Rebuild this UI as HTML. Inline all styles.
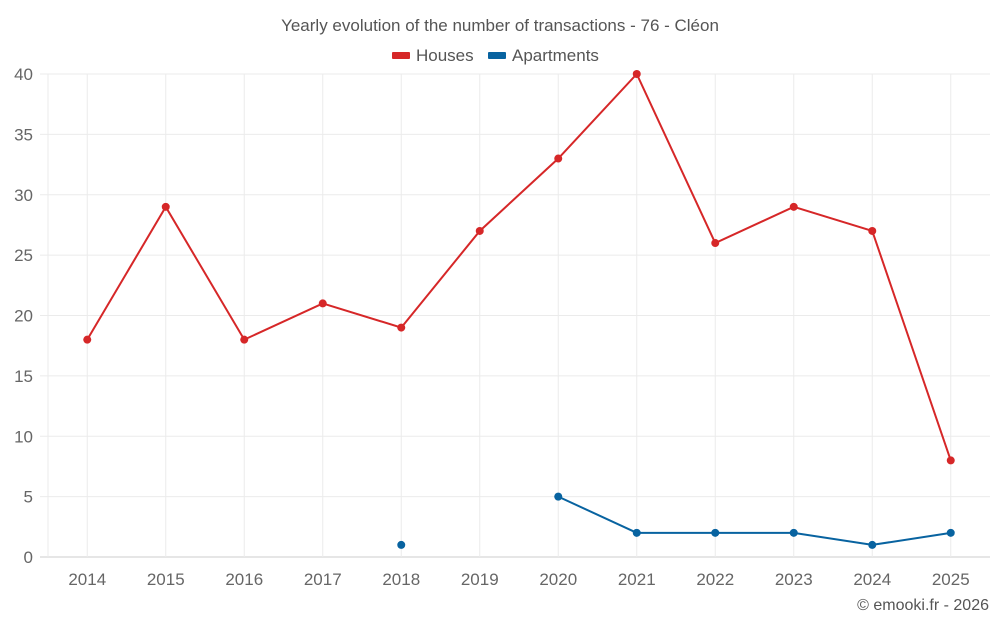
<!DOCTYPE html>
<html><head><meta charset="utf-8"><style>
html,body{margin:0;padding:0;background:#fff;}
svg text{font-family:"Liberation Sans",sans-serif;}
</style></head><body>
<svg id="chart" width="1000" height="625" xmlns="http://www.w3.org/2000/svg">
<text x="500" y="31" text-anchor="middle" font-size="17" fill="#555">Yearly evolution of the number of transactions - 76 - Cléon</text>
<g>
<g><rect x="392" y="52" width="18" height="7" fill="#d62728" rx="1"/><text x="416" y="61" font-size="17" fill="#555">Houses</text></g>
<g><rect x="488" y="52" width="18" height="7" fill="#0863a0" rx="1"/><text x="512" y="61" font-size="17" fill="#555">Apartments</text></g>
</g>
<g id="grid"></g><g id="axes"></g><g id="series"></g>
<text x="989" y="610" text-anchor="end" font-size="16" fill="#555">© emooki.fr - 2026</text>
</svg>
<script>
const years=["2014","2015","2016","2017","2018","2019","2020","2021","2022","2023","2024","2025"];
const houses=[18,29,18,21,19,27,33,40,26,29,27,8];
const apartments=[null,null,null,null,1,null,5,2,2,2,1,2];
const yTicks=[0,5,10,15,20,25,30,35,40];
const L=48,R=990,T=74,B=557,yMax=40;
const bw=(R-L)/years.length;
const xs=i=>L+bw*(i+0.5);
const ys=v=>B-(v/yMax)*(B-T);
const NS="http://www.w3.org/2000/svg";
function mk(tag,attrs,parent){const e=document.createElementNS(NS,tag);for(const k in attrs)e.setAttribute(k,attrs[k]);parent.appendChild(e);return e;}
const grid=document.getElementById('grid'),axes=document.getElementById('axes'),series=document.getElementById('series');
yTicks.forEach(t=>{
 const l=mk('line',{x1:40,x2:R,y1:ys(t),y2:ys(t),stroke:t===0?'#ccc':'#ebebeb','stroke-width':1},grid);
 
 
 const tx=mk('text',{x:33,y:ys(t)+6,'text-anchor':'end','font-size':17,fill:'#666'},axes);
 tx.textContent=t;
 
 
});
const lg=mk('line',{x1:L,x2:L,y1:T,y2:B,stroke:'#ebebeb','stroke-width':1},grid);


years.forEach((y,i)=>{
 const l=mk('line',{x1:xs(i),x2:xs(i),y1:T,y2:B,stroke:'#ebebeb','stroke-width':1},grid);
 
 
 const tx=mk('text',{x:xs(i),y:585,'text-anchor':'middle','font-size':17,fill:'#666'},axes);
 tx.textContent=y;
 
 
});
function draw(vals,color,name){
 let segs=[],cur=[];
 vals.forEach((v,i)=>{if(v==null){if(cur.length)segs.push(cur);cur=[];}else cur.push([xs(i),ys(v)]);});
 if(cur.length)segs.push(cur);
 segs.forEach(s=>{if(s.length>1){
  const p=mk('polyline',{points:s.map(q=>q.join(',')).join(' '),fill:'none',stroke:color,'stroke-width':2},series);
  
  
 }});
 vals.forEach((v,i)=>{if(v==null)return;
  const c=mk('circle',{cx:xs(i),cy:ys(v),r:4,fill:color},series);
  
  
 });
}
draw(houses,'#d62728','houses');
draw(apartments,'#0863a0','apartments');
</script>
</body></html>
